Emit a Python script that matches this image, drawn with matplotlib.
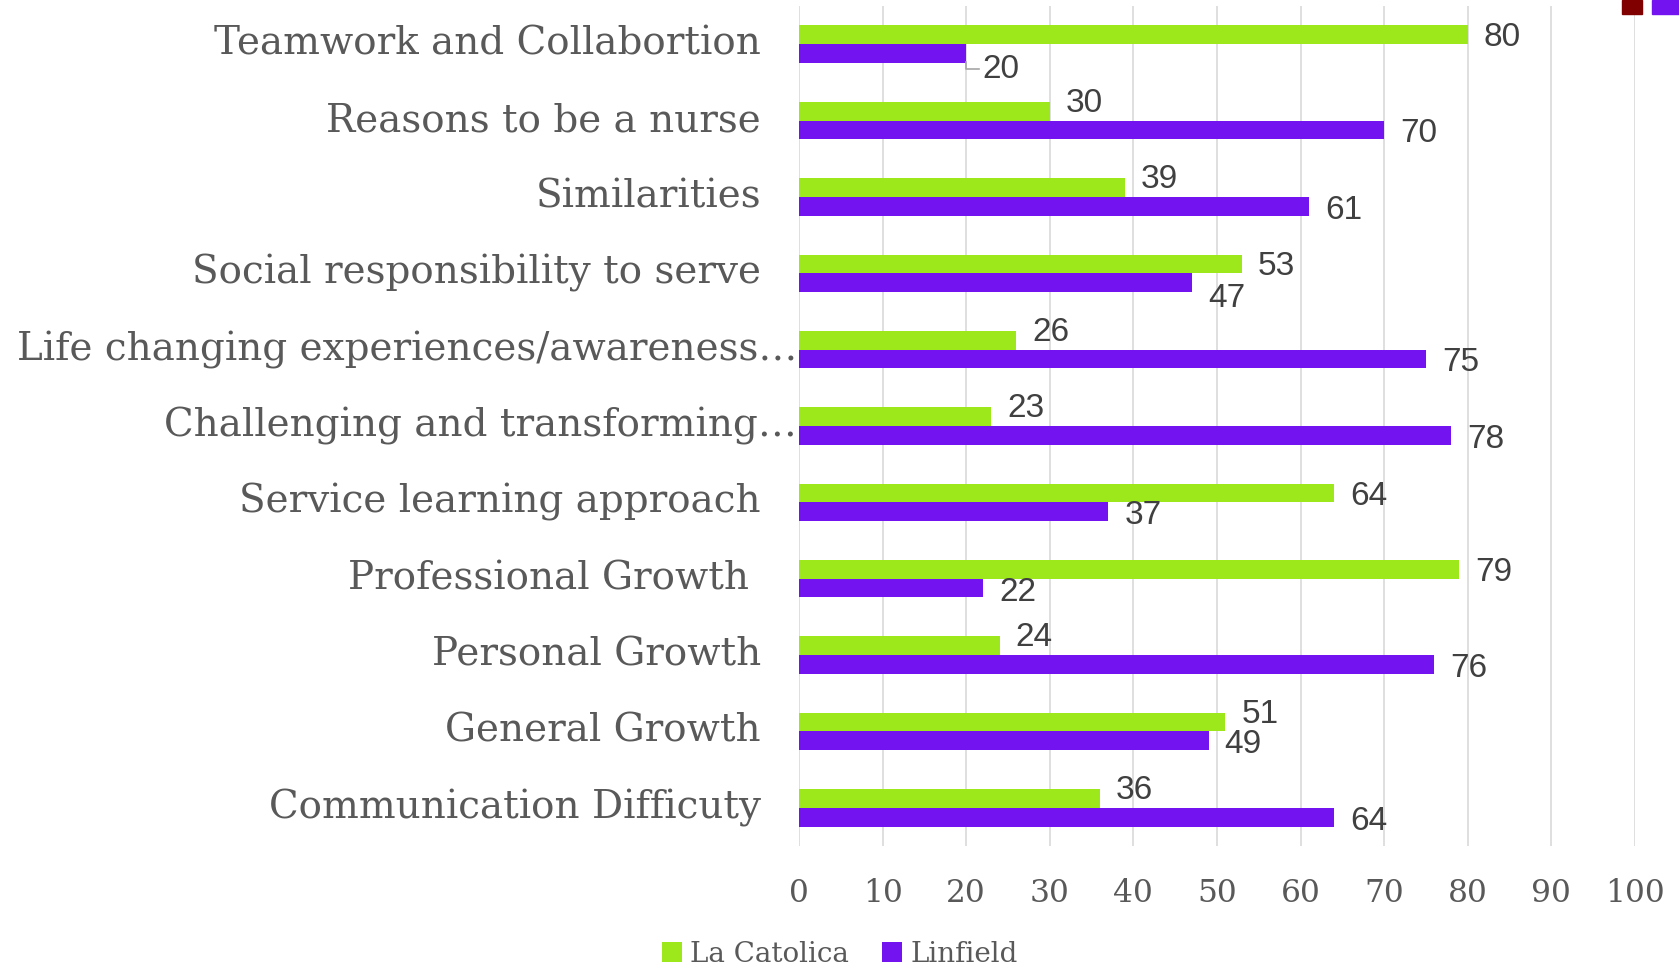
import matplotlib
matplotlib.use("Agg")
import matplotlib.pyplot as plt
from matplotlib.patches import Rectangle
import matplotlib.transforms as mtransforms

categories = [
    "Teamwork and Collabortion",
    "Reasons to be a nurse",
    "Similarities",
    "Social responsibility to serve",
    "Life changing experiences/awareness…",
    "Challenging and transforming…",
    "Service learning approach",
    "Professional Growth ",
    "Personal Growth",
    "General Growth",
    "Communication Difficuty",
]
la_catolica = [80, 30, 39, 53, 26, 23, 64, 79, 24, 51, 36]
linfield = [20, 70, 61, 47, 75, 78, 37, 22, 76, 49, 64]
series_names = ["La Catolica", "Linfield"]
xticks = [0, 10, 20, 30, 40, 50, 60, 70, 80, 90, 100]

GREEN = "#9DE81B"
PURPLE = "#7314F0"
GRAY = "#595959"
SERIF = ["DejaVu Serif"]
SANS = ["Liberation Sans", "DejaVu Sans"]

fig = plt.figure(figsize=(16.79, 9.69), dpi=100)
ax = fig.add_axes([799 / 1679, 1 - 846 / 969, (1635 - 799) / 1679, (846 - 6) / 969])

h = 0.245
ys = list(range(len(categories)))
b1 = ax.barh([y - h / 2 for y in ys], la_catolica, height=h, color=GREEN, label=series_names[0], zorder=3)
b2 = ax.barh([y + h / 2 for y in ys], linfield, height=h, color=PURPLE, label=series_names[1], zorder=3)

ax.set_xlim(0, 100)
ax.set_ylim(len(categories) - 0.5, -0.5)
ax.set_xticks(xticks)
ax.set_xticklabels([str(t) for t in xticks], fontsize=22.5, color=GRAY, family=SERIF)
ax.tick_params(axis="x", length=0, pad=23)
ax.set_yticks([])
ax.grid(axis="x", color="#D9D9D9", linewidth=1.2, zorder=0)
for s in ax.spines.values():
    s.set_visible(False)

# category labels
for y, c in zip(ys, categories):
    pad = 2 if c.endswith("…") else 38
    tr = mtransforms.offset_copy(ax.transData, fig=fig, x=-pad, y=0, units="dots")
    ax.text(0, y, c, transform=tr, ha="right", va="center", fontsize=28,
            color=GRAY, family=SERIF)

# data labels
nudge_purple = {0: 16, 3: 16}
for y, g, p in zip(ys, la_catolica, linfield):
    gdy = 3 if g > p + 5 else -8
    pdy = nudge_purple.get(y, 4)
    tr_g = mtransforms.offset_copy(ax.transData, fig=fig, x=16, y=-gdy, units="dots")
    ax.text(g, y - h / 2, str(g), transform=tr_g, ha="left", va="center",
            fontsize=24, color="#404040", family=SANS)
    tr_p = mtransforms.offset_copy(ax.transData, fig=fig, x=16, y=-pdy, units="dots")
    ax.text(p, y + h / 2, str(p), transform=tr_p, ha="left", va="center",
            fontsize=24, color="#404040", family=SANS)

# leader line for first purple label
p0 = ax.transData.transform((linfield[0], 0 + h / 2))
ax.add_line(plt.Line2D([p0[0], p0[0], p0[0] + 13], [p0[1] - 8, p0[1] - 15, p0[1] - 15],
                       transform=None, color="#A6A6A6", linewidth=1.2, zorder=4))

leg = fig.legend(handles=[b1, b2], labels=series_names, loc="center",
                 bbox_to_anchor=(840 / 1679, 1 - 954 / 969), ncol=2, frameon=False,
                 prop={"family": SERIF, "size": 20}, handlelength=0.7, handleheight=0.7,
                 handletextpad=0.3, columnspacing=1.2)
for t in leg.get_texts():
    t.set_color(GRAY)

# clipped legend remnant at top right
fig.patches.append(Rectangle((1622 / 1679, 1 - 14 / 969), 20 / 1679, 14 / 969,
                             transform=fig.transFigure, color="#800000", zorder=5))
fig.patches.append(Rectangle((1652 / 1679, 1 - 14 / 969), 27 / 1679, 14 / 969,
                             transform=fig.transFigure, color=PURPLE, zorder=5))

fig.savefig("out.png", dpi=100, facecolor="white")
